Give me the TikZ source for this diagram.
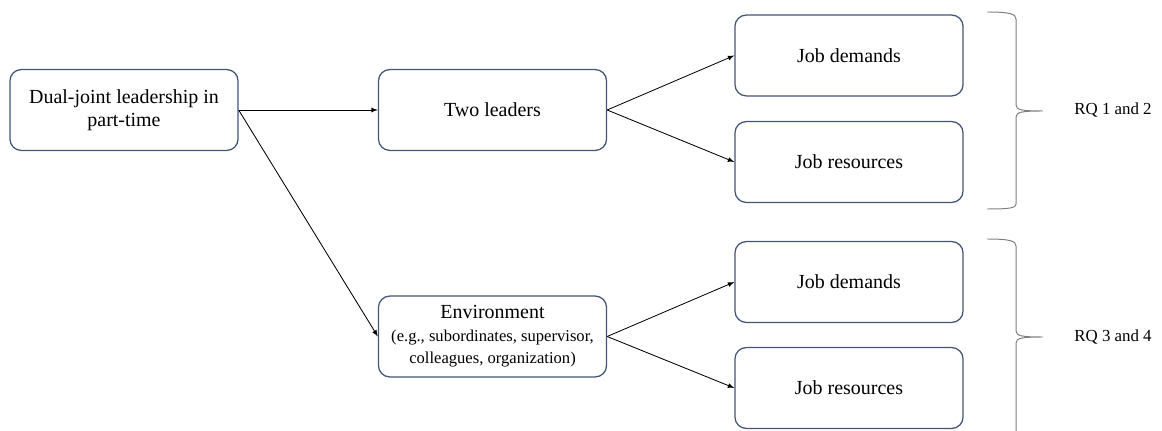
\documentclass[tikz,border=0pt]{standalone}
\usepackage{fontspec}
\setmainfont{Liberation Serif}
\usetikzlibrary{arrows,positioning}
\definecolor{boxblue}{RGB}{68,86,118}
\definecolor{bracegray}{RGB}{128,128,128}
\newcommand{\subfont}{\fontsize{11.8}{14}\selectfont}

\begin{document}
\begin{tikzpicture}[x=0.025cm, y=-0.025cm,
    box/.style={draw=boxblue, line width=0.9pt, rounded corners=8pt, fill=white,
      minimum width=5.7cm, minimum height=2.02cm, inner sep=0pt, align=center,
      font=\fontsize{14.2}{16}\selectfont},
    link/.style={-latex, line width=0.6pt},
    rqbrace/.style={draw=bracegray, line width=0.7pt},
    rqlabel/.style={font=\fontsize{12}{14}\selectfont}]
  \useasboundingbox (0,0) rectangle (1162,431);
  % left and middle column
  \node[box] (lead) at (124,110) {Dual-joint leadership in\\part-time};
  \node[box] (two) at (492.5,110) {Two leaders};
  \node[box] (env) at (492.5,336.5) {Environment\\\subfont (e.g., subordinates, supervisor,\\\subfont colleagues, organization)};
  % right column
  \node[box] (dem1) at (849,55.5) {Job demands};
  \node[box] (res1) at (849,162) {Job resources};
  \node[box] (dem2) at (849,282) {Job demands};
  \node[box] (res2) at (849,388) {Job resources};
  % connectors
  \draw[link] (lead.east) -- (two.west);
  \draw[link] (lead.east) -- (env.west);
  \draw[link] (two.east) -- (dem1.west);
  \draw[link] (two.east) -- (res1.west);
  \draw[link] (env.east) -- (dem2.west);
  \draw[link] (env.east) -- (res2.west);
  % research questions
  \draw[rqbrace] (987,12) .. controls (1010,12) and (1016,14) .. (1016,19) -- (1016,105)
    .. controls (1016,110) and (1022,111) .. (1043,111)
    .. controls (1022,111) and (1016,112) .. (1016,117) -- (1016,204)
    .. controls (1016,208) and (1010,209) .. (987,209);
  \draw[rqbrace] (987,239) .. controls (1010,239) and (1016,241) .. (1016,246) -- (1016,331)
    .. controls (1016,336) and (1022,337) .. (1043,337)
    .. controls (1022,337) and (1016,338) .. (1016,343) -- (1016,434);
  \node[rqlabel] (rq1) at (1113,110) {RQ 1 and 2};
  \node[rqlabel] (rq2) at (1113,337) {RQ 3 and 4};
\end{tikzpicture}
\end{document}
